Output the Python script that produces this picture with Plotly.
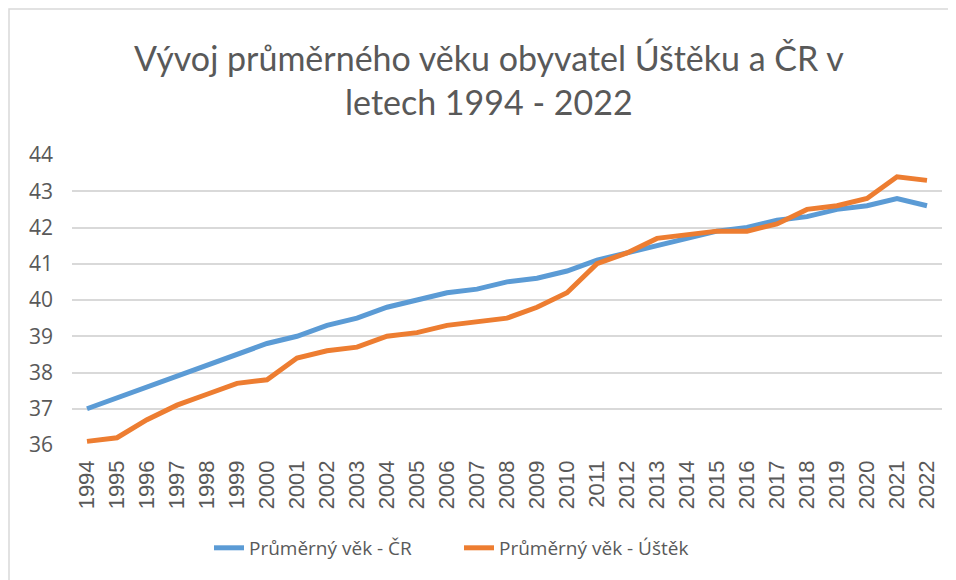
import plotly.graph_objects as go

years = [str(y) for y in range(1994, 2023)]
vek_cr = [37.0, 37.3, 37.6, 37.9, 38.2, 38.5, 38.8, 39.0, 39.3, 39.5,
          39.8, 40.0, 40.2, 40.3, 40.5, 40.6, 40.8, 41.1, 41.3, 41.5,
          41.7, 41.9, 42.0, 42.2, 42.3, 42.5, 42.6, 42.8, 42.6]
vek_ustek = [36.1, 36.2, 36.7, 37.1, 37.4, 37.7, 37.8, 38.4, 38.6, 38.7,
             39.0, 39.1, 39.3, 39.4, 39.5, 39.8, 40.2, 41.0, 41.3, 41.7,
             41.8, 41.9, 41.9, 42.1, 42.5, 42.6, 42.8, 43.4, 43.3]
series_names = ["Průměrný věk - ČR", "Průměrný věk - Úštěk"]
title_text = "Vývoj průměrného věku obyvatel Úštěku a ČR v<br>letech 1994 - 2022"
y_ticks = [36, 37, 38, 39, 40, 41, 42, 43, 44]

fig = go.Figure()
fig.add_trace(go.Scatter(x=years, y=vek_cr, mode="lines", name=series_names[0],
                         line=dict(color="#5B9BD5", width=5)))
fig.add_trace(go.Scatter(x=years, y=vek_ustek, mode="lines", name=series_names[1],
                         line=dict(color="#ED7D31", width=5)))

fig.update_layout(
    width=956, height=580,
    margin=dict(l=64, r=22, t=147, b=143, autoexpand=False),
    paper_bgcolor="white", plot_bgcolor="white",
    title=dict(text=title_text, x=0.503, xanchor="center", y=0.891, yanchor="middle",
               font=dict(family="Lato, Open Sans, sans-serif", size=34, color="#595959")),
    xaxis=dict(type="category", tickangle=-90, showgrid=False, zeroline=False,
               showline=False, ticks="", ticklabelstandoff=10, automargin=False,
               tickfont=dict(family="Liberation Sans, Arial, sans-serif", size=22, color="#595959"),
               range=[-0.5, 28.5]),
    yaxis=dict(range=[36, 44], tickvals=y_ticks, showgrid=True, gridcolor="#D9D9D9",
               gridwidth=1.5, zeroline=False, showline=False, ticks="",
               ticklabelstandoff=18, automargin=False,
               tickfont=dict(family="Open Sans, sans-serif", size=21, color="#595959")),
    legend=dict(orientation="h", x=(209 - 72) / 870, xanchor="left", y=-0.355, yanchor="middle",
                font=dict(family="Open Sans, sans-serif", size=19, color="#595959"),
                entrywidth=205, entrywidthmode="pixels", tracegroupgap=0),
    showlegend=True,
    shapes=[dict(type="rect", xref="paper", yref="paper", x0=(9 - 72) / 870, x1=1.3,
                 y0=-0.7, y1=(445 - 9) / 290, line=dict(color="#D9D9D9", width=1.5),
                 fillcolor="rgba(0,0,0,0)", layer="below")],
)

fig.write_html("out.html")
